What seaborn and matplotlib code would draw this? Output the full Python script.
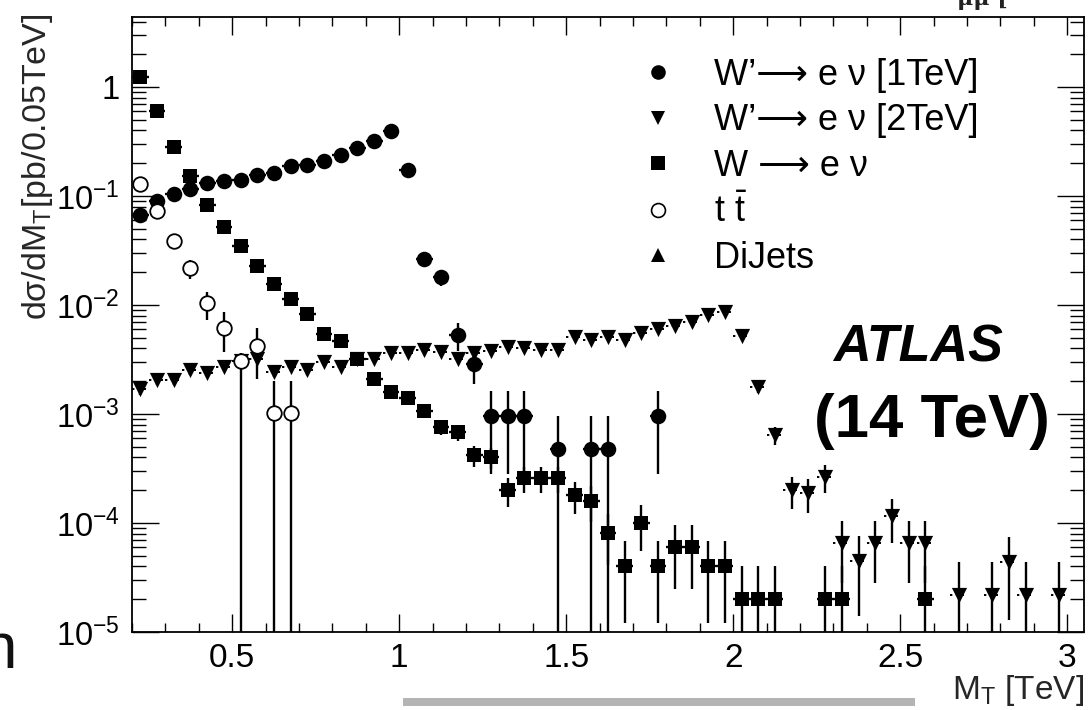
import numpy as np
import matplotlib
matplotlib.use("Agg")
import matplotlib.pyplot as plt
import seaborn as sns
from matplotlib.lines import Line2D
from matplotlib.patches import Rectangle
from matplotlib.ticker import MultipleLocator, LogLocator, NullFormatter

# ---------------- data ----------------
BIN_HALF = 0.025

# W' -> e nu [1 TeV]  (filled circles)
wp1_x = [0.225, 0.275, 0.325, 0.375, 0.425, 0.475, 0.525, 0.575, 0.625, 0.675,
         0.725, 0.775, 0.825, 0.875, 0.925, 0.975, 1.025, 1.075, 1.125, 1.175,
         1.225, 1.275, 1.325, 1.375, 1.475, 1.575, 1.625, 1.775]
wp1_y = [0.067, 0.090, 0.104, 0.115, 0.133, 0.139, 0.141, 0.157, 0.163, 0.188,
         0.191, 0.208, 0.239, 0.274, 0.318, 0.392, 0.172, 0.0266, 0.018, 0.0053,
         0.0029, 0.00096, 0.00096, 0.00096, 0.00048, 0.00048, 0.00048, 0.00096]
wp1_err = [0.0057, 0.0066, 0.0071, 0.0074, 0.0080, 0.0082, 0.0082, 0.0087, 0.0088, 0.0095,
           0.0096, 0.0100, 0.0107, 0.0115, 0.0124, 0.0137, 0.0091, 0.0036, 0.0029, 0.0015,
           0.0010, 0.00068, 0.00068, 0.00068, 0.00048, 0.00048, 0.00048, 0.00068]

# W' -> e nu [2 TeV]  (down triangles)
wp2_x = [0.225, 0.275, 0.325, 0.375, 0.425, 0.475, 0.525, 0.575, 0.625, 0.675,
         0.725, 0.775, 0.825, 0.875, 0.925, 0.975, 1.025, 1.075, 1.125, 1.175,
         1.225, 1.275, 1.325, 1.375, 1.425, 1.475, 1.525, 1.575, 1.625, 1.675,
         1.725, 1.775, 1.825, 1.875, 1.925, 1.975, 2.025, 2.075, 2.125, 2.175,
         2.225, 2.275, 2.325, 2.375, 2.425, 2.475, 2.525, 2.575, 2.675, 2.775,
         2.825, 2.875, 2.975]
wp2_y = [0.00168, 0.00205, 0.00205, 0.00253, 0.0024, 0.0027, 0.0031, 0.0032, 0.00244, 0.0027,
         0.00253, 0.0030, 0.0027, 0.0032, 0.0032, 0.0036, 0.0036, 0.0039, 0.0037, 0.0032,
         0.0036, 0.0038, 0.0041, 0.0040, 0.0039, 0.0039, 0.0051, 0.0048, 0.0051, 0.0048,
         0.0055, 0.0060, 0.0064, 0.0070, 0.0081, 0.0087, 0.0052, 0.00176, 0.00064, 0.0002,
         0.000187, 0.000266, 6.6e-5, 4.5e-5, 6.6e-5, 1.15e-4, 6.6e-5, 6.6e-5, 2.2e-5, 2.2e-5,
         4.4e-5, 2.2e-5, 2.2e-5]
wp2_err = [1.9e-4, 2.1e-4, 2.1e-4, 2.35e-4, 2.3e-4, 2.4e-4, 2.6e-4, 2.6e-4, 2.3e-4, 2.4e-4,
           2.35e-4, 2.6e-4, 2.4e-4, 2.6e-4, 2.6e-4, 2.8e-4, 2.8e-4, 2.9e-4, 2.85e-4, 2.6e-4,
           2.8e-4, 2.9e-4, 3.0e-4, 3.0e-4, 2.9e-4, 2.9e-4, 3.3e-4, 3.25e-4, 3.3e-4, 3.25e-4,
           3.5e-4, 3.6e-4, 3.7e-4, 3.9e-4, 4.2e-4, 4.4e-4, 3.4e-4, 2.0e-4, 1.2e-4, 6.6e-5,
           6.4e-5, 7.6e-5, 3.8e-5, 3.1e-5, 3.8e-5, 5.0e-5, 3.8e-5, 3.8e-5, 2.2e-5, 2.2e-5,
           3.1e-5, 2.2e-5, 2.2e-5]

# W -> e nu  (filled squares)
wenu_x = [0.225, 0.275, 0.325, 0.375, 0.425, 0.475, 0.525, 0.575, 0.625, 0.675,
          0.725, 0.775, 0.825, 0.875, 0.925, 0.975, 1.025, 1.075, 1.125, 1.175,
          1.225, 1.275, 1.325, 1.375, 1.425, 1.475, 1.525, 1.575, 1.625, 1.675,
          1.725, 1.775, 1.825, 1.875, 1.925, 1.975, 2.025, 2.075, 2.125, 2.275,
          2.325, 2.575]
wenu_y = [1.24, 0.60, 0.28, 0.154, 0.083, 0.052, 0.035, 0.023, 0.0156, 0.0113,
          0.0082, 0.0054, 0.0047, 0.0032, 0.0021, 0.0016, 0.0014, 0.00107, 0.00076, 0.00068,
          0.00042, 0.0004, 0.0002, 0.00026, 0.00026, 0.00026, 0.00018, 0.00016, 8.1e-5, 4e-5,
          1.0e-4, 4e-5, 6e-5, 6e-5, 4e-5, 4e-5, 2e-5, 2e-5, 2e-5, 2e-5,
          2e-5, 2e-5]
wenu_err = [0.005, 0.0035, 0.0024, 0.00175, 0.0013, 0.001, 0.00084, 0.00068, 0.00056, 0.00048,
            0.0004, 0.00033, 0.00031, 0.00025, 0.0002, 0.00018, 0.00017, 0.00015, 0.00012, 0.00012,
            9e-5, 9e-5, 6e-5, 7e-5, 7e-5, 7e-5, 6e-5, 5.7e-5, 4e-5, 2.8e-5,
            4.5e-5, 2.8e-5, 3.5e-5, 3.5e-5, 2.8e-5, 2.8e-5, 2e-5, 2e-5, 2e-5, 2e-5,
            2e-5, 2e-5]

# t tbar  (open circles), asymmetric errors
tt_x = [0.225, 0.275, 0.325, 0.375, 0.425, 0.475, 0.525, 0.575, 0.625, 0.675]
tt_y = [0.128, 0.073, 0.0386, 0.022, 0.0104, 0.0062, 0.0031, 0.0042, 0.00103, 0.00103]
tt_err_lo = [0.005, 0.004, 0.003, 0.0047, 0.0031, 0.0025, 0.0031, 0.0021, 0.00103, 0.00103]
tt_err_hi = [0.005, 0.004, 0.003, 0.004, 0.0029, 0.0025, 0.0005, 0.0020, 0.001, 0.001]

# DiJets: legend entry only, no points in range
dijet_x = []
dijet_y = []

legend_labels = ["W\u2019\u27f6 e \u03bd [1TeV]", "W\u2019\u27f6 e \u03bd [2TeV]",
                 "W \u27f6 e \u03bd", r"t $\bar{\mathrm{t}}$", "DiJets"]
xtick_vals = [0.5, 1, 1.5, 2, 2.5, 3]
xtick_labels = ["0.5", "1", "1.5", "2", "2.5", "3"]
ytick_vals = [1e-5, 1e-4, 1e-3, 1e-2, 1e-1, 1]
ytick_labels = [r"$10^{-5}$", r"$10^{-4}$", r"$10^{-3}$", r"$10^{-2}$", r"$10^{-1}$", "1"]

# ---------------- style ----------------
sns.set_theme(style="ticks")
plt.rcParams['font.family'] = ['Liberation Sans', 'DejaVu Sans']
plt.rcParams['mathtext.fontset'] = 'custom'
plt.rcParams['mathtext.rm'] = 'Liberation Sans'
plt.rcParams['mathtext.it'] = 'Liberation Sans:italic'
plt.rcParams['mathtext.bf'] = 'Liberation Sans:bold'
plt.rcParams['axes.edgecolor'] = 'black'
plt.rcParams['text.color'] = 'black'

W, H = 1091, 710
fig = plt.figure(figsize=(W / 100, H / 100), dpi=100)
fig.patch.set_facecolor('white')
ax = fig.add_axes([132 / W, 78 / H, 952 / W, 615 / H])
ax.set_facecolor('white')
ax.set_yscale('log')

EL = 1.7
# error bars
ax.errorbar(wenu_x, wenu_y, yerr=wenu_err, xerr=BIN_HALF, fmt='none',
            ecolor='black', elinewidth=EL, capsize=0, zorder=2)
ax.errorbar(wp1_x, wp1_y, yerr=wp1_err, xerr=BIN_HALF, fmt='none',
            ecolor='black', elinewidth=EL, capsize=0, zorder=2)
ax.errorbar(tt_x, tt_y, yerr=[tt_err_lo, tt_err_hi], fmt='none',
            ecolor='black', elinewidth=EL, capsize=0, zorder=2)
ax.errorbar(wp2_x, wp2_y, yerr=wp2_err, fmt='none',
            ecolor='black', elinewidth=EL, capsize=0, zorder=2)
wp2_xa = np.asarray(wp2_x)
ax.hlines(wp2_y, wp2_xa - BIN_HALF, wp2_xa + BIN_HALF, colors='black',
          linestyles=(0, (1.2, 1.8)), linewidth=1.4, zorder=2)

# markers
sns.scatterplot(x=wenu_x, y=wenu_y, marker='s', s=105, color='black',
                linewidth=0, ax=ax, zorder=3, legend=False)
sns.scatterplot(x=wp1_x, y=wp1_y, marker='o', s=125, color='black',
                linewidth=0, ax=ax, zorder=3, legend=False)
sns.scatterplot(x=wp2_x, y=wp2_y, marker='v', s=120, color='black',
                linewidth=0, ax=ax, zorder=3, legend=False)
sns.scatterplot(x=tt_x, y=tt_y, marker='o', s=110, color='white',
                edgecolor='black', linewidth=1.3, ax=ax, zorder=4, legend=False)
if len(dijet_x):
    sns.scatterplot(x=dijet_x, y=dijet_y, marker='^', s=100, color='black',
                    linewidth=0, ax=ax, zorder=3, legend=False)

ax.set_xlim(0.2, 3.05)
ax.set_ylim(1e-5, 4.4)

# ticks
ax.set_xticks(xtick_vals, labels=xtick_labels)
ax.xaxis.set_minor_locator(MultipleLocator(0.1))
ax.set_yticks(ytick_vals, labels=ytick_labels)
ax.yaxis.set_minor_locator(LogLocator(base=10, subs=np.arange(2, 10), numticks=30))
ax.yaxis.set_minor_formatter(NullFormatter())
ax.tick_params(which='both', direction='in', top=True, right=True,
               colors='black', width=1.0)
ax.tick_params(axis='x', which='major', length=13, pad=8, labelsize=24)
ax.tick_params(axis='x', which='minor', length=6.5)
ax.tick_params(axis='y', which='major', length=19.5, pad=9, labelsize=23.5)
ax.tick_params(axis='y', which='minor', length=10)
for sp in ax.spines.values():
    sp.set_linewidth(1.3)
    sp.set_color('black')
    sp.set_visible(True)

# axis titles
ax.set_xlabel(r"M$_{\mathrm{T}}$ [TeV]", fontsize=24, loc='right')
ax.xaxis.set_label_coords(1.0, -0.066)
ax.set_ylabel("d\u03c3/dM$_{\\mathrm{T}}$[pb/0.05TeV]", fontsize=24.5, loc='top')
ax.yaxis.set_label_coords(-0.0805, 1.0065)

# legend
handles = [
    Line2D([0], [0], marker='o', ls='none', color='black', markersize=10.5, mew=0),
    Line2D([0], [0], marker='v', ls='none', color='black', markersize=10.0, mew=0),
    Line2D([0], [0], marker='s', ls='none', color='black', markersize=10.0, mew=0),
    Line2D([0], [0], marker='o', ls='none', mfc='white', mec='black', markersize=10.0, mew=1.2),
    Line2D([0], [0], marker='^', ls='none', color='black', markersize=10.0, mew=0),
]
ax.legend(handles, legend_labels, loc='upper left',
          bbox_to_anchor=(641 / W, (H - 58) / H), bbox_transform=fig.transFigure,
          frameon=False, fontsize=26, handlelength=0.95, handletextpad=1.08,
          labelspacing=0.29, borderpad=0, borderaxespad=0)

# ATLAS label
fig.text(918 / W, (H - 362) / H, "ATLAS", fontsize=37.5, fontweight='bold',
         fontstyle='italic', ha='center', va='baseline')
fig.text(932 / W, (H - 437) / H, "(14 TeV)", fontsize=44.5, fontweight='bold',
         ha='center', va='baseline')

# cropping remnants of the source page
fig.text(17 / W, (H - 668) / H, "n", fontsize=46, ha='right', va='baseline', color='#111111')
fig.text(957 / W, (H - 5) / H, "\u03bc\u03bc [", fontsize=16, family='DejaVu Serif',
         fontweight='bold', va='baseline', color='#222222')
fig.patches.append(Rectangle((403 / W, (H - 706) / H), 512 / W, 8 / H,
                             transform=fig.transFigure, facecolor='#b4b4b4',
                             edgecolor='none'))

fig.savefig("out.png", dpi=100, facecolor='white')
